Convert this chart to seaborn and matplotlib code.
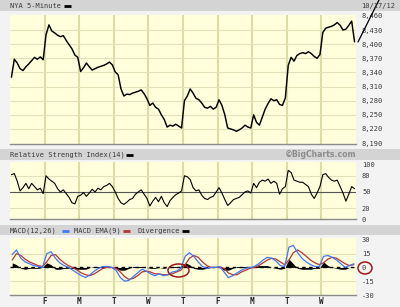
import numpy as np
import pandas as pd
import matplotlib
matplotlib.use("Agg")
import matplotlib.pyplot as plt
import seaborn as sns
from matplotlib.patches import Ellipse, Rectangle
from matplotlib.lines import Line2D

# ---------------- data ----------------
day_labels = ["", "F", "M", "T", "W", "T", "F", "M", "T", "W"]
date_label = "10/17/12"
price_ticks = [8190, 8220, 8250, 8280, 8310, 8340, 8370, 8400, 8430, 8460]
rsi_ticks = [0, 20, 50, 80, 100]
macd_ticks = [-30, -15, 0, 15, 30]

# NYA 5-minute closes, 12 readings per session
price = [
    8330, 8368, 8360, 8348, 8344, 8352, 8358, 8365, 8372, 8368, 8373, 8367,
    8420, 8441, 8428, 8424, 8419, 8416, 8418, 8408, 8399, 8390, 8377, 8372,
    8342, 8350, 8360, 8352, 8345, 8348, 8351, 8353, 8355, 8358, 8362, 8356,
    8341, 8335, 8305, 8290, 8294, 8293, 8296, 8298, 8300, 8303, 8295, 8284,
    8270, 8275, 8266, 8262, 8250, 8240, 8224, 8228, 8226, 8230, 8226, 8222,
    8280, 8290, 8305, 8296, 8285, 8282, 8275, 8266, 8264, 8268, 8262, 8266,
    8282, 8270, 8250, 8222, 8220, 8218, 8215, 8218, 8222, 8228, 8224, 8222,
    8250, 8234, 8228, 8245, 8262, 8274, 8284, 8280, 8282, 8272, 8270, 8286,
    8355, 8372, 8364, 8376, 8380, 8382, 8380, 8384, 8380, 8374, 8370, 8378,
    8425, 8434, 8436, 8438, 8441, 8446, 8440, 8430, 8432, 8440, 8449, 8405,
]

# RSI(14), 12 readings per session
rsi = [
    82, 84, 70, 52, 58, 66, 56, 66, 60, 54, 57, 47,
    80, 74, 70, 66, 56, 50, 54, 47, 40, 30, 28, 42,
    44, 49, 42, 48, 55, 50, 57, 54, 60, 62, 66, 60,
    50, 38, 30, 27, 31, 36, 38, 46, 50, 54, 46, 38,
    24, 33, 40, 32, 42, 30, 23, 34, 40, 45, 48, 52,
    80, 78, 73, 58, 52, 54, 44, 38, 36, 40, 42, 50,
    58, 48, 36, 25, 30, 36, 38, 40, 45, 50, 52, 48,
    66, 58, 68, 72, 70, 74, 66, 70, 66, 46, 56, 60,
    90, 86, 72, 70, 68, 68, 64, 60, 46, 38, 48, 60,
    82, 84, 77, 72, 70, 72, 60, 48, 33, 46, 60, 56,
]

# MACD(12,26), EMA(9) and divergence, 8 readings per session
macd = [
    14, 19, 10, 6, 4, 2, 1, 0,
    15, 17, 10, 5, 2, 0, -3, -6,
    -9, -11, -8, -4, -1, 1, 1, 0,
    -3, -11, -15, -14, -10, -6, -2, -4,
    -7, -9, -7, -9, -8, -5, -4, -1,
    12, 16, 12, 6, 1, -1, 0, 0,
    1, -5, -11, -9, -6, -3, -1, 0,
    1, 4, 8, 11, 10, 7, 2, 1,
    22, 24, 16, 10, 6, 3, 1, 1,
    12, 13, 11, 8, 4, 0, 2, 4,
]
macd_ema = [
    8, 15, 13, 9, 6, 4, 2, 1,
    6, 13, 14, 9, 5, 2, 0, -3,
    -6, -8, -9, -7, -4, -1, 0, 0,
    -1, -5, -10, -13, -12, -9, -5, -4,
    -5, -7, -7, -8, -8, -7, -5, -3,
    3, 10, 13, 11, 6, 2, 0, 0,
    0, -1, -6, -8, -8, -5, -3, -1,
    0, 2, 5, 8, 10, 9, 6, 3,
    8, 16, 19, 16, 12, 8, 5, 3,
    5, 9, 11, 10, 7, 4, 2, 3,
]
divergence = [
    5, 3, -1, -2, -1, -1, -1, 0,
    5, 3, -2, -2, -1, -1, -1, -2,
    -2, -2, 0, 1, 1, 1, 0, 0,
    -1, -3, -3, -1, 1, 1, 1, 0,
    -1, -1, 0, -1, 0, 1, 1, 1,
    5, 3, -1, -2, -2, -1, 0, 0,
    0, -3, -3, -1, 1, 1, 1, 0,
    1, 2, 2, 2, 0, -1, -2, -1,
    9, 4, -1, -2, -2, -2, -1, -1,
    6, 2, 0, -1, -2, -2, 0, 1,
]

# ---------------- style ----------------
W, H = 400, 307
BG = "#f3f3f3"
BAND = "#d4d4d4"
PLOT_BG = "#ffffdc"
GRID_V = "#dcdca4"
GRID_H = "#e2e2b8"
TXT = "#3a3a3a"
MONO = "DejaVu Sans Mono"

sns.set_style("white")

fig = plt.figure(figsize=(W / 100, H / 100), dpi=100)
fig.patch.set_facecolor(BG)


def rect(x0, y0, x1, y1):
    return [x0 / W, 1 - y1 / H, (x1 - x0) / W, (y1 - y0) / H]


def band(y0, y1):
    fig.patches.append(Rectangle((0, 1 - y1 / H), 1, (y1 - y0) / H,
                                 transform=fig.transFigure, facecolor=BAND,
                                 edgecolor="none", zorder=0))


def legend_dash(x0, y, color):
    fig.add_artist(Line2D([x0 / W, (x0 + 7) / W], [1 - y / H] * 2,
                          transform=fig.transFigure, color=color, lw=2.0,
                          solid_capstyle="butt"))


def style_axes(ax, yticks, ylabels, hlines):
    ax.set_facecolor(PLOT_BG)
    ax.set_xlim(0, 10)
    ax.set_xticks(range(1, 10))
    ax.yaxis.tick_right()
    ax.set_yticks(yticks)
    ax.set_yticklabels(ylabels, fontsize=5.0, family=MONO, color=TXT)
    ax.tick_params(axis="y", length=0, pad=4.3)
    ax.tick_params(axis="x", length=0)
    for v in range(1, 10):
        ax.axvline(v, color=GRID_V, lw=1.5, zorder=0.5)
    for v in hlines:
        ax.axhline(v, color=GRID_H, lw=0.8, zorder=0.5)
    for s in ["top", "left", "right"]:
        ax.spines[s].set_visible(False)
    ax.spines["bottom"].set_color("#8a8a8a")
    ax.spines["bottom"].set_linewidth(1.0)
    ax.set_xlabel("")
    ax.set_ylabel("")


# title bands
band(0, 11)
band(149, 160)
band(225, 235)

# ---------------- price panel ----------------
ax1 = fig.add_axes(rect(10, 15, 356, 144))
n1 = 12
px = [(i // n1) + ((i % n1) + 0.5) / n1 for i in range(len(price))]
sns.lineplot(x=px, y=price, ax=ax1, color="black", lw=1.05, zorder=3)
ax1.set_ylim(8188, 8462)
style_axes(ax1, price_ticks, [f"{v:,}" for v in price_ticks], price_ticks[1:-1])
ax1.set_xticklabels([])

fig.text(10 / W, 1 - 6 / H, "NYA 5-Minute", fontsize=5.0, family=MONO,
         color=TXT, va="center", ha="left")
legend_dash(64, 6, "black")
fig.text(395 / W, 1 - 6 / H, date_label, fontsize=5.0, family=MONO,
         color=TXT, va="center", ha="right")

# hand-drawn trend line
fig.add_artist(Line2D([358 / W, 379 / W], [1 - 42 / H, 1 - 0 / H],
                      transform=fig.transFigure, color="black", lw=0.9))

# ---------------- RSI panel ----------------
ax2 = fig.add_axes(rect(10, 162, 356, 219))
rx = [(i // 12) + ((i % 12) + 0.5) / 12 for i in range(len(rsi))]
sns.lineplot(x=rx, y=rsi, ax=ax2, color="black", lw=0.8, zorder=3)
ax2.set_ylim(0, 105.5)
style_axes(ax2, rsi_ticks, [str(v) for v in rsi_ticks], [20, 80])
ax2.axhline(50, color="#555555", lw=0.8, zorder=1)
ax2.set_xticklabels([])

fig.text(10 / W, 1 - 154.5 / H, "Relative Strength Index(14)", fontsize=5.0,
         family=MONO, color=TXT, va="center", ha="left")
legend_dash(126, 154.5, "black")
fig.text(356 / W, 1 - 154.5 / H, "\u00a9BigCharts.com", fontsize=5.6,
         family="DejaVu Sans", weight="bold", color="#8c8c8c",
         va="center", ha="right")

# ---------------- MACD panel ----------------
ax3 = fig.add_axes(rect(10, 238, 356, 295))
mx = [(i // 8) + ((i % 8) + 0.5) / 8 for i in range(len(macd))]
ax3.fill_between(mx, 0, divergence, color="black", lw=0, zorder=2)
ax3.axhline(0, color="black", lw=1.0, ls=(0, (2.5, 2.5)), zorder=2)
sns.lineplot(x=mx, y=macd_ema, ax=ax3, color="#b83535", lw=0.9, zorder=3)
sns.lineplot(x=mx, y=macd, ax=ax3, color="#4477f5", lw=0.9, zorder=4)
ax3.set_ylim(-30, 32)
style_axes(ax3, macd_ticks, [str(v) for v in macd_ticks], [15, -15])
ax3.set_xticklabels(day_labels[1:], fontsize=5.5, family=MONO,
                    weight="bold", color="#222222")
ax3.tick_params(axis="x", pad=1.5)

fig.text(10 / W, 1 - 230.5 / H, "MACD(12,26)", fontsize=5.0, family=MONO,
         color=TXT, va="center", ha="left")
legend_dash(62, 230.5, "#4477f5")
fig.text(74 / W, 1 - 230.5 / H, "MACD EMA(9)", fontsize=5.0, family=MONO,
         color=TXT, va="center", ha="left")
legend_dash(123, 230.5, "#b83535")
fig.text(138 / W, 1 - 230.5 / H, "Divergence", fontsize=5.0, family=MONO,
         color=TXT, va="center", ha="left")
legend_dash(182, 230.5, "black")

# red annotation ellipses
fig.add_artist(Ellipse((178.5 / W, 1 - 270.5 / H), 21 / W, 13 / H,
                       transform=fig.transFigure, fill=False,
                       edgecolor="#a01818", lw=1.1))
fig.add_artist(Ellipse((365 / W, 1 - 268 / H), 14 / W, 12 / H,
                       transform=fig.transFigure, fill=False,
                       edgecolor="#a01818", lw=1.1))

fig.savefig("out.png", dpi=100, facecolor=fig.get_facecolor())
